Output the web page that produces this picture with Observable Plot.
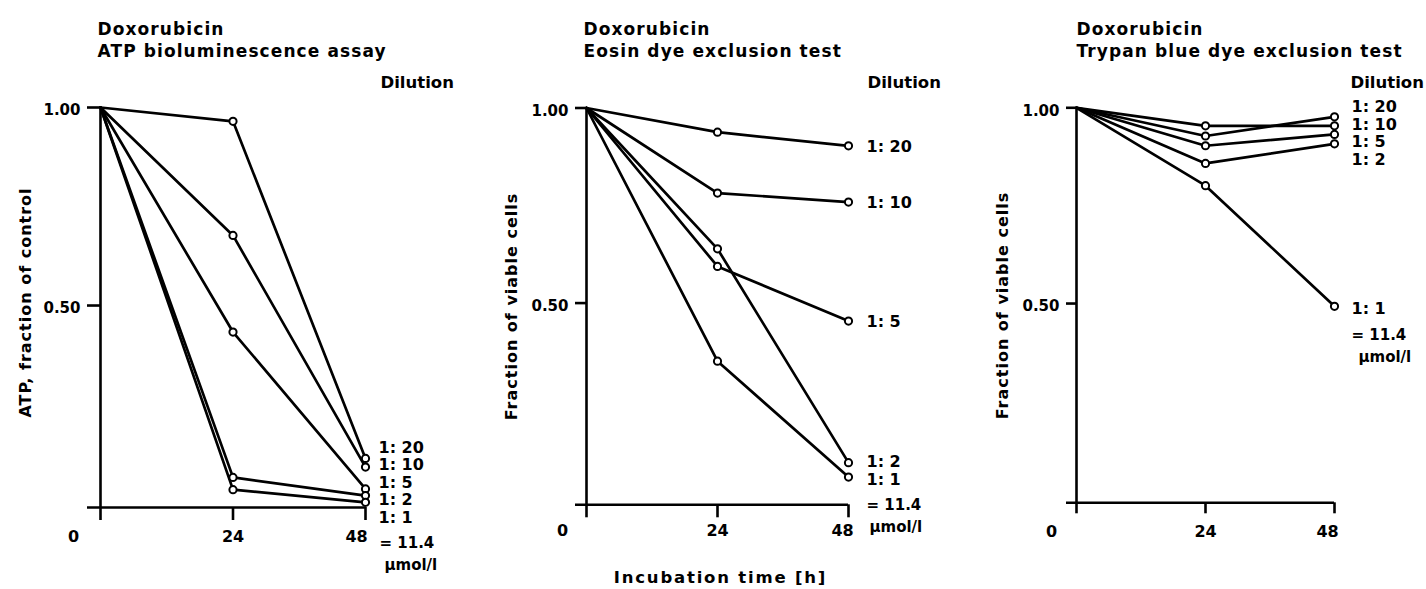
<!DOCTYPE html>
<html><head><meta charset="utf-8">
<script src="https://cdn.jsdelivr.net/npm/d3@7"></script>
<script src="https://cdn.jsdelivr.net/npm/@observablehq/plot@0.6"></script>
<style>
body{margin:0;background:#fff;}
#chart{position:relative;width:1426px;height:589px;overflow:hidden;background:#fff;}
#chart svg{position:absolute;top:0;overflow:visible;background:transparent;}
</style></head><body><div id="chart"></div>
<script>
// ---- data ----
const hours = [0, 24, 48];
const dilutions = ["1: 20", "1: 10", "1: 5", "1: 2", "1: 1"];
const concentrationLabel = ["= 11.4", "µmol/l"];
const drugName = "Doxorubicin";
const assayNames = ["ATP bioluminescence assay", "Eosin dye exclusion test", "Trypan blue dye exclusion test"];
const yLabels = ["ATP, fraction of control", "Fraction of viable cells", "Fraction of viable cells"];
const xLabel = "Incubation time [h]";
const dilutionHeader = "Dilution";
const xTickValues = [0, 24, 48];
const yTickValues = [0.5, 1];
// values at 0, 24, 48 h for 1:20, 1:10, 1:5, 1:2, 1:1
const atpValues = [
  [1.00, 0.965, 0.114],
  [1.00, 0.677, 0.092],
  [1.00, 0.433, 0.037],
  [1.00, 0.066, 0.020],
  [1.00, 0.035, 0.003]
];
const eosinValues = [
  [1.00, 0.938, 0.903],
  [1.00, 0.782, 0.759],
  [1.00, 0.594, 0.454],
  [1.00, 0.639, 0.091],
  [1.00, 0.351, 0.054]
];
const trypanValues = [
  [1.00, 0.928, 0.977],
  [1.00, 0.954, 0.954],
  [1.00, 0.903, 0.932],
  [1.00, 0.858, 0.908],
  [1.00, 0.801, 0.493]
];
const panelValues = [atpValues, eosinValues, trypanValues];

// ---- layout (pixel geometry of each panel) ----
const layouts = [
  {left: 0,   width: 475, xL: 100,  xR: 365,  yTop: 107,   yAxis: 507,   yMin: -0.010,
   titleX: 97,   yLabX: 25,   yLabY: 302, dilX: 380,  tickDx: [-27, 0, -9], tickDy: 29, labDx: 13, unitDx: [14, 19], labShift: 0, yTickLen: 13, xTickLen: 13},
  {left: 475, width: 475, xL: 586,  xR: 848,  yTop: 107.5, yAxis: 504.3, yMin: -0.017,
   titleX: 583,  yLabX: 511,  yLabY: 306, dilX: 867,  tickDx: [-24, 0, -6], tickDy: 26, labDx: 18, unitDx: [18, 21], labShift: 1, yTickLen: 11, xTickLen: 13},
  {left: 950, width: 476, xL: 1076, xR: 1334, yTop: 107.3, yAxis: 502.3, yMin: -0.009,
   titleX: 1076, yLabX: 1002, yLabY: 305, dilX: 1350, tickDx: [-25, 0, -7], tickDy: 29, labDx: 17, unitDx: [17, 24], labShift: 3, yTickLen: 10, xTickLen: 11}
];

const FONT = "'DejaVu Sans', sans-serif";

function dodge(items, s) {
  items = items.slice().sort((a, b) => a.p - b.p);
  let clusters = items.map(it => ({members: [it], sum: it.p}));
  const start = c => c.sum / c.members.length - (c.members.length - 1) * s / 2;
  let merged = true;
  while (merged) {
    merged = false;
    for (let k = 0; k < clusters.length - 1; k++) {
      const a = clusters[k], b = clusters[k + 1];
      if (start(a) + a.members.length * s > start(b)) {
        clusters.splice(k, 2, {members: a.members.concat(b.members), sum: a.sum + b.sum});
        merged = true; break;
      }
    }
  }
  const out = new Map();
  for (const c of clusters) { const s0 = start(c); c.members.forEach((m, j) => out.set(m.i, s0 + j * s)); }
  return out;
}

const chart = document.getElementById("chart");

layouts.forEach((L, pi) => {
  const values = panelValues[pi];
  const rows = [];
  dilutions.forEach((dil, i) => hours.forEach((h, j) => rows.push({dilution: dil, hour: h, value: values[i][j]})));

  const mL = L.xL - L.left, mR = L.left + L.width - L.xR;
  const mT = L.yTop, mB = 589 - L.yAxis;
  const yPx = v => L.yAxis + (v - L.yMin) * (L.yTop - L.yAxis) / (1 - L.yMin);
  const yInv = p => L.yMin + (p - L.yAxis) * (1 - L.yMin) / (L.yTop - L.yAxis);
  const at = (gx, gy) => ({frameAnchor: "top-left", dx: gx - L.xL, dy: gy - L.yTop});

  const pos = dodge(values.map((v, i) => ({i, p: yPx(v[2])})), 17.5);
  const labelRows = dilutions.map((d, i) => ({text: d, x: 48, y: yInv(pos.get(i) + L.labShift)}));
  const lastP = pos.get(dilutions.length - 1) + L.labShift;
  const unitRow1 = [{text: concentrationLabel[0], x: 48, y: yInv(lastP + 26)}];
  const unitRow2 = [{text: concentrationLabel[1], x: 48, y: yInv(lastP + 48)}];

  const marks = [
    Plot.ruleY([L.yMin], {x1: 0, x2: 48, insetLeft: -L.yTickLen, stroke: "black", strokeWidth: 2.6}),
    Plot.ruleX([0], {y1: L.yMin, y2: 1, stroke: "black", strokeWidth: 2.6}),
    Plot.axisX({ticks: xTickValues, tickSize: L.xTickLen, tickFormat: () => "", strokeWidth: 2.6, label: null}),
    Plot.axisY({ticks: yTickValues, tickSize: L.yTickLen, tickFormat: () => "", strokeWidth: 2.6, label: null}),
    ...xTickValues.map((t, k) => Plot.text([t], {x: d => d, y: L.yMin, text: d => String(d), dx: L.tickDx[k], dy: L.tickDy,
      fontSize: 16, fontWeight: "bold", lineAnchor: "middle", textAnchor: "middle"})),
    Plot.text(yTickValues, {x: 0, y: d => d, text: d => d3.format(".2f")(d), dx: -(L.yTickLen + 7), dy: 3,
      fontSize: 15, fontWeight: "bold", textAnchor: "end", lineAnchor: "middle"}),
    Plot.line(rows, {x: "hour", y: "value", z: "dilution", stroke: "black", strokeWidth: 2.7, curve: "linear"}),
    Plot.dot(rows.filter(d => d.hour > 0), {x: "hour", y: "value", r: 3.6, fill: "white", stroke: "black", strokeWidth: 2}),
    Plot.text(labelRows, {x: "x", y: "y", text: "text", dx: L.labDx, textAnchor: "start", lineAnchor: "middle", fontSize: 16, fontWeight: "bold"}),
    Plot.text(unitRow1, {x: "x", y: "y", text: "text", dx: L.unitDx[0], textAnchor: "start", lineAnchor: "middle", fontSize: 15, fontWeight: "bold"}),
    Plot.text(unitRow2, {x: "x", y: "y", text: "text", dx: L.unitDx[1], textAnchor: "start", lineAnchor: "middle", fontSize: 15, fontWeight: "bold"}),
    Plot.text([dilutionHeader], {...at(L.dilX, 82), textAnchor: "start", lineAnchor: "middle", fontSize: 16.5, fontWeight: "bold"}),
    Plot.text([drugName + "\n" + assayNames[pi]], {...at(L.titleX, 18), textAnchor: "start", lineAnchor: "top",
      fontSize: 17, fontWeight: "bold", lineHeight: 1.33}),
    Plot.text([yLabels[pi]], {...at(L.yLabX, L.yLabY), rotate: -90, textAnchor: "middle", lineAnchor: "middle",
      fontSize: 16, fontWeight: "bold"})
  ];
  if (pi === 1) {
    marks.push(Plot.text([xLabel], {...at(720, 577), textAnchor: "middle", lineAnchor: "middle", fontSize: 16.5, fontWeight: "bold"}));
  }

  const svg = Plot.plot({
    width: L.width, height: 589,
    marginLeft: mL, marginRight: mR, marginTop: mT, marginBottom: mB,
    x: {domain: [0, 48], axis: null},
    y: {domain: [L.yMin, 1], axis: null},
    style: {fontFamily: FONT, color: "black", background: "transparent", overflow: "visible"},
    marks
  });
  svg.style.left = L.left + "px";
  chart.appendChild(svg);
  // wider tracking for the titles and axis titles, as in the original typesetting
  svg.querySelectorAll("text").forEach(t => {
    const s = t.textContent;
    let ls = null;
    if (s.startsWith(drugName)) ls = 1.1;
    else if (yLabels.includes(s)) ls = 1.0;
    else if (s === xLabel) ls = 1.8;
    if (ls !== null) {
      t.setAttribute("letter-spacing", ls);
      t.style.letterSpacing = ls + "px";
    }
  });
});
</script></body></html>
